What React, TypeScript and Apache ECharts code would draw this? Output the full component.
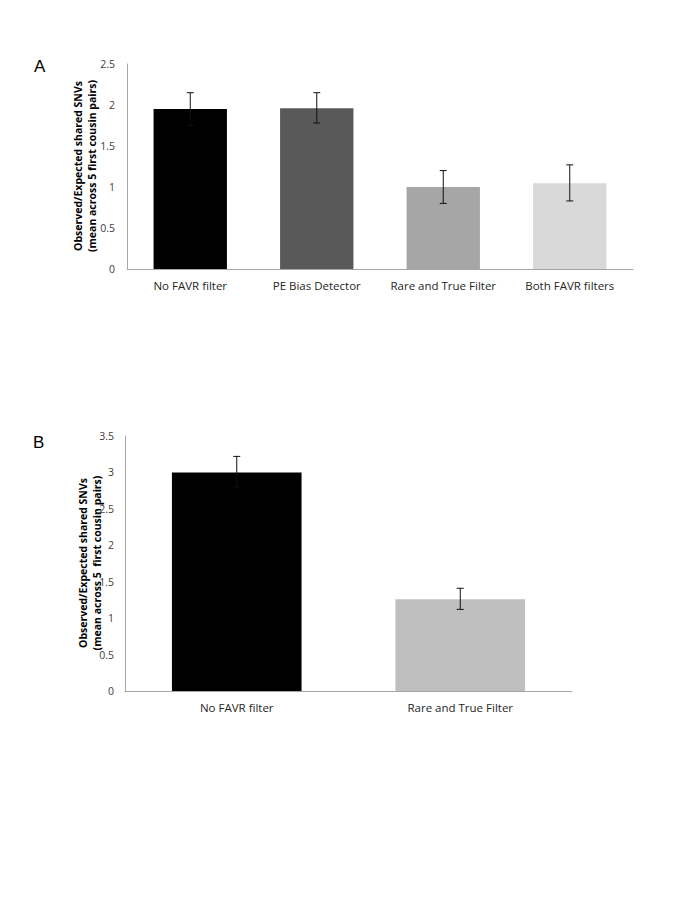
import React, { useEffect, useRef } from "react";
import * as echarts from "echarts";

const catsA = ["No FAVR filter", "PE Bias Detector", "Rare and True Filter", "Both FAVR filters"];
const meanA = [1.95, 1.96, 1.0, 1.045];
const lowA = [1.75, 1.78, 0.8, 0.83];
const highA = [2.15, 2.15, 1.2, 1.27];
const colorsA = ["#000000", "#595959", "#a6a6a6", "#d9d9d9"];

const catsB = ["No FAVR filter", "Rare and True Filter"];
const meanB = [3.0, 1.26];
const lowB = [2.8, 1.12];
const highB = [3.22, 1.41];
const colorsB = ["#000000", "#bfbfbf"];

const titleA = ["Observed/Expected shared SNVs", "(mean across 5 first cousin pairs)"];
const titleB = ["Observed/Expected shared SNVs", "(mean across 5  first cousin pairs)"];

const FONT = "Open Sans";

function errRender(params: any, api: any) {
  const x = api.value(0);
  const pLo = api.coord([x, api.value(1)]);
  const pHi = api.coord([x, api.value(2)]);
  const cw = 3.5;
  const style = { stroke: "#111111", lineWidth: 1 };
  return {
    type: "group",
    children: [
      { type: "line", shape: { x1: pLo[0], y1: pLo[1], x2: pHi[0], y2: pHi[1] }, style },
      { type: "line", shape: { x1: pLo[0] - cw, y1: pLo[1], x2: pLo[0] + cw, y2: pLo[1] }, style },
      { type: "line", shape: { x1: pHi[0] - cw, y1: pHi[1], x2: pHi[0] + cw, y2: pHi[1] }, style },
    ],
  };
}

export default function App() {
  const ref = useRef<HTMLDivElement>(null);
  useEffect(() => {
    const chart = echarts.init(ref.current!, null, { renderer: "svg" });
    const axisLine = { show: true, lineStyle: { color: "#a6a6a6", width: 1 } };
    const yLabel = { color: "#404040", fontFamily: FONT, fontSize: 10.5, margin: 12 };
    const xLabel = { color: "#262626", fontFamily: FONT, fontSize: 11.5, margin: 10, interval: 0 };
    const gridA = { left: 127, top: 64, width: 506, height: 205 };
    const gridB = { left: 125, top: 436, width: 447, height: 255 };
    const titleStyle = { fontFamily: FONT, fontSize: 10.5, fontWeight: "bold", fill: "#000", textAlign: "center", textVerticalAlign: "middle" };
    chart.setOption({
      animation: false,
      grid: [
        { ...gridA, containLabel: false },
        { ...gridB, containLabel: false },
      ],
      xAxis: [
        { type: "category", gridIndex: 0, data: catsA, axisLine, axisTick: { show: false }, axisLabel: xLabel },
        { type: "category", gridIndex: 1, data: catsB, axisLine, axisTick: { show: false }, axisLabel: xLabel },
      ],
      yAxis: [
        { type: "value", gridIndex: 0, min: 0, max: 2.5, interval: 0.5, axisLine, axisTick: { show: false }, splitLine: { show: false }, axisLabel: yLabel },
        { type: "value", gridIndex: 1, min: 0, max: 3.5, interval: 0.5, axisLine, axisTick: { show: false }, splitLine: { show: false }, axisLabel: { ...yLabel, margin: 11 } },
      ],
      series: [
        {
          type: "bar", xAxisIndex: 0, yAxisIndex: 0, barWidth: "58%",
          data: meanA.map((v, i) => ({ value: v, itemStyle: { color: colorsA[i] } })),
        },
        {
          type: "custom", xAxisIndex: 0, yAxisIndex: 0, z: 10, renderItem: errRender,
          data: catsA.map((_, i) => [i, lowA[i], highA[i]]),
        },
        {
          type: "bar", xAxisIndex: 1, yAxisIndex: 1, barWidth: "58%",
          data: meanB.map((v, i) => ({ value: v, itemStyle: { color: colorsB[i] } })),
        },
        {
          type: "custom", xAxisIndex: 1, yAxisIndex: 1, z: 10, renderItem: errRender,
          data: catsB.map((_, i) => [i, lowB[i], highB[i]]),
        },
      ],
      graphic: [
        { type: "text", left: 34, top: 58, style: { text: "A", fontFamily: "Liberation Sans", fontSize: 17, fill: "#000" } },
        { type: "text", left: 33, top: 434, style: { text: "B", fontFamily: "Liberation Sans", fontSize: 17, fill: "#000" } },
        { type: "text", x: 78, y: 166, rotation: Math.PI / 2, style: { ...titleStyle, text: titleA[0] } },
        { type: "text", x: 92, y: 166, rotation: Math.PI / 2, style: { ...titleStyle, text: titleA[1] } },
        { type: "text", x: 83, y: 563, rotation: Math.PI / 2, style: { ...titleStyle, text: titleB[0] } },
        { type: "text", x: 97, y: 563, rotation: Math.PI / 2, style: { ...titleStyle, text: titleB[1] } },
      ],
    });
    return () => chart.dispose();
  }, []);
  return <div ref={ref} style={{ position: "absolute", left: 0, top: 0, width: 685, height: 913, background: "#fff" }} />;
}
